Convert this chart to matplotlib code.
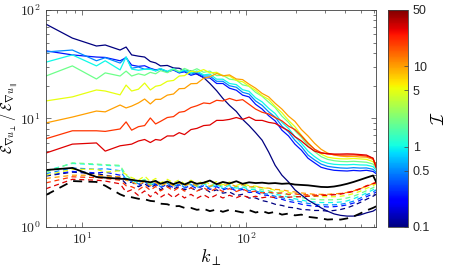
import numpy as np
import matplotlib
matplotlib.use('Agg')
import matplotlib.pyplot as plt
from matplotlib.colors import LogNorm
from matplotlib.cm import ScalarMappable
from matplotlib.ticker import NullFormatter, NullLocator

plt.rcParams['mathtext.fontset'] = 'cm'
plt.rcParams['font.family'] = ['Liberation Sans', 'DejaVu Sans']

k = [6, 8.7, 12.2, 13.8, 17, 18.5,
     20, 22, 24, 26, 28, 30,
     33, 36, 39, 42, 46, 50,
     55, 60, 66, 72, 79, 87,
     95, 104, 114, 125, 137, 150,
     165, 181, 198, 217, 238, 261,
     286, 313, 343, 376, 412, 451,
     494, 541, 593, 620]

I_vals = [0.1, 0.25, 0.5, 1, 2, 5, 10, 20, 30]

# solid curves, one per I
s_01 = [74, 55, 46.5, 47.5, 42.7, 45.5,
        38.5, 37.5, 36.8, 33.5, 32.5, 30.5,
        30.8, 29.2, 29.0, 27.6, 27.4, 25.6,
        23.8, 21.0, 18.0, 15.3, 13.2, 11.6,
        9.8, 8.6, 7.4, 6.3, 4.9, 3.7,
        3.0, 2.6, 2.2, 1.97, 1.77, 1.63,
        1.5, 1.4, 1.32, 1.28, 1.26, 1.26,
        1.29, 1.35, 1.40, 1.46]
s_025 = [42, 38.5, 36.8, 36.5, 34.0, 36.3,
         31.0, 30.2, 30.6, 29.0, 28.0, 28.6,
         27.0, 27.9, 26.3, 26.9, 25.0, 25.9,
         23.8, 23.6, 21.0, 21.0, 19.0, 18.2,
         16.4, 15.8, 13.5, 12.2, 10.6, 9.5,
         7.8, 6.9, 5.8, 5.1, 4.3, 3.9,
         3.55, 3.42, 3.33, 3.3, 3.28, 3.32,
         3.29, 3.33, 3.25, 3.1]
s_05 = [41, 42.7, 34.0, 36.3, 32.4, 36.8,
        29.0, 29.8, 28.4, 28.8, 27.4, 28.6,
        26.8, 28.2, 26.4, 27.5, 25.6, 26.6,
        24.6, 24.6, 22.0, 22.0, 20.0, 19.4,
        17.4, 16.8, 14.5, 13.2, 11.5, 10.3,
        8.5, 7.5, 6.3, 5.5, 4.6, 4.15,
        3.8, 3.62, 3.55, 3.5, 3.48, 3.52,
        3.49, 3.5, 3.4, 3.2]
s_1 = [33, 38.5, 30.5, 34.0, 28.0, 36.8,
       28.5, 27.8, 28.4, 28.3, 27.6, 28.8,
       27.2, 28.8, 26.9, 28.0, 26.3, 27.4,
       25.2, 25.6, 23.0, 23.0, 21.0, 20.5,
       18.4, 17.8, 15.5, 14.2, 12.4, 11.1,
       9.2, 8.1, 6.8, 5.9, 5.0, 4.45,
       4.05, 3.87, 3.78, 3.75, 3.74, 3.77,
       3.73, 3.72, 3.6, 3.35]
s_2 = [24.6, 30.5, 23.1, 26.3, 24.6, 27.3,
       24.6, 25.8, 25.0, 26.6, 25.8, 27.6,
       26.4, 28.4, 27.0, 28.9, 27.2, 28.7,
       26.6, 27.3, 24.8, 25.0, 23.0, 22.6,
       20.4, 19.8, 17.4, 16.0, 14.1, 12.6,
       10.5, 9.2, 7.7, 6.7, 5.6, 4.95,
       4.45, 4.2, 4.08, 4.02, 4.0, 4.03,
       3.99, 3.95, 3.8, 3.5]
s_5 = [14.5, 15.8, 18.3, 17.9, 16.5, 20.3,
       17.9, 18.6, 21.2, 18.3, 19.8, 20.2,
       22.0, 22.4, 24.6, 24.8, 27.2, 26.8,
       28.2, 26.3, 26.6, 24.8, 24.6, 22.4,
       21.8, 19.8, 18.2, 16.2, 15.0, 12.9,
       11.3, 9.6, 8.4, 7.0, 6.0, 5.2,
       4.7, 4.4, 4.3, 4.25, 4.24, 4.28,
       4.24, 4.2, 4.0, 3.6]
s_10 = [9.1, 10.3, 11.7, 11.5, 13.3, 12.5,
        13.0, 13.9, 15.1, 13.6, 15.0, 15.0,
        16.4, 16.8, 18.8, 18.9, 20.9, 21.0,
        23.5, 24.2, 26.0, 24.7, 25.2, 23.1,
        22.8, 20.7, 19.0, 17.0, 15.8, 13.8,
        12.2, 10.5, 9.4, 7.9, 6.9, 5.9,
        5.2, 4.8, 4.6, 4.5, 4.45, 4.47,
        4.42, 4.4, 4.2, 3.7]
s_20 = [6.5, 7.7, 7.7, 7.6, 8.0, 9.3,
        7.8, 8.4, 8.6, 10.1, 8.9, 9.4,
        10.2, 10.4, 11.4, 11.6, 12.6, 13.1,
        13.9, 13.7, 14.7, 14.5, 15.3, 14.6,
        14.9, 13.5, 12.2, 11.4, 11.0, 10.2,
        9.5, 8.5, 7.9, 6.9, 5.9, 5.2,
        4.85, 4.7, 4.65, 4.6, 4.6, 4.62,
        4.57, 4.5, 4.3, 3.6]
s_30 = [4.8, 5.8, 5.95, 5.0, 5.6, 5.7,
        5.8, 6.2, 6.4, 6.0, 6.4, 6.3,
        6.9, 6.9, 7.4, 7.1, 7.9, 8.1,
        8.6, 8.7, 9.6, 9.6, 9.8, 10.2,
        9.8, 10.3, 9.6, 9.6, 9.2, 9.0,
        8.3, 7.7, 6.8, 6.2, 5.5, 5.0,
        4.8, 4.75, 4.7, 4.7, 4.72, 4.7,
        4.65, 4.6, 4.3, 3.5]

# dashed curves, one per I
d_01 = [2.95, 3.2, 3.1, 3.0, 2.85, 2.5,
        2.6, 2.35, 2.5, 2.3, 2.45, 2.2,
        2.4, 2.25, 2.35, 2.2, 2.3, 2.15,
        2.28, 2.1, 2.2, 2.05, 2.1, 1.95,
        2.0, 1.85, 1.85, 1.75, 1.7, 1.62,
        1.58, 1.52, 1.5, 1.45, 1.44, 1.42,
        1.42, 1.4, 1.42, 1.45, 1.5, 1.58,
        1.68, 1.8, 1.92, 2.0]
d_025 = [3.0, 3.25, 3.15, 3.2, 3.0, 2.7,
         2.6, 2.42, 2.58, 2.36, 2.5, 2.3,
         2.48, 2.3, 2.45, 2.28, 2.42, 2.25,
         2.4, 2.22, 2.35, 2.2, 2.3, 2.15,
         2.22, 2.08, 2.1, 1.98, 1.95, 1.85,
         1.8, 1.72, 1.68, 1.62, 1.58, 1.55,
         1.55, 1.53, 1.54, 1.56, 1.6, 1.66,
         1.76, 1.9, 2.02, 2.1]
d_05 = [3.1, 3.5, 3.4, 3.45, 3.3, 2.75,
        2.65, 2.5, 2.62, 2.4, 2.55, 2.35,
        2.52, 2.35, 2.5, 2.32, 2.46, 2.3,
        2.44, 2.28, 2.4, 2.25, 2.36, 2.22,
        2.28, 2.16, 2.15, 2.05, 2.0, 1.92,
        1.86, 1.8, 1.75, 1.7, 1.65, 1.62,
        1.6, 1.6, 1.6, 1.62, 1.66, 1.73,
        1.84, 1.98, 2.1, 2.2]
d_1 = [3.3, 3.85, 3.75, 3.7, 3.65, 2.8,
       2.7, 2.55, 2.7, 2.45, 2.62, 2.4,
       2.58, 2.42, 2.56, 2.38, 2.52, 2.36,
       2.5, 2.34, 2.46, 2.3, 2.42, 2.28,
       2.34, 2.22, 2.22, 2.12, 2.08, 2.0,
       1.95, 1.88, 1.82, 1.77, 1.72, 1.7,
       1.68, 1.68, 1.68, 1.7, 1.74, 1.82,
       1.93, 2.06, 2.2, 2.3]
d_2 = [3.2, 3.9, 3.8, 3.75, 3.7, 3.0,
       2.75, 2.6, 2.75, 2.5, 2.68, 2.45,
       2.64, 2.46, 2.6, 2.42, 2.58, 2.4,
       2.56, 2.4, 2.52, 2.36, 2.5, 2.34,
       2.42, 2.3, 2.3, 2.2, 2.16, 2.08,
       2.04, 1.98, 1.92, 1.87, 1.82, 1.8,
       1.78, 1.78, 1.78, 1.8, 1.85, 1.92,
       2.03, 2.16, 2.3, 2.4]
d_5 = [3.0, 3.4, 3.4, 3.2, 3.3, 3.05,
       2.85, 2.7, 2.95, 2.62, 2.8, 2.55,
       2.75, 2.55, 2.72, 2.5, 2.7, 2.5,
       2.66, 2.48, 2.62, 2.45, 2.6, 2.42,
       2.52, 2.4, 2.38, 2.3, 2.26, 2.18,
       2.14, 2.08, 2.02, 1.98, 1.94, 1.92,
       1.9, 1.9, 1.9, 1.92, 1.96, 2.03,
       2.13, 2.27, 2.4, 2.5]
d_10 = [2.8, 3.0, 3.0, 2.95, 2.9, 2.7,
        2.6, 2.45, 2.62, 2.4, 2.58, 2.38,
        2.55, 2.4, 2.56, 2.38, 2.54, 2.38,
        2.55, 2.36, 2.52, 2.38, 2.5, 2.36,
        2.46, 2.34, 2.36, 2.3, 2.28, 2.22,
        2.2, 2.14, 2.1, 2.06, 2.03, 2.0,
        2.0, 2.0, 2.02, 2.04, 2.08, 2.15,
        2.25, 2.38, 2.5, 2.55]
d_20 = [2.55, 2.9, 2.85, 2.8, 2.7, 2.4,
        2.35, 2.2, 2.4, 2.18, 2.36, 2.15,
        2.34, 2.15, 2.32, 2.14, 2.3, 2.14,
        2.3, 2.12, 2.28, 2.12, 2.26, 2.12,
        2.24, 2.1, 2.14, 2.06, 2.1, 2.04,
        2.06, 2.0, 2.02, 1.98, 1.98, 1.97,
        1.98, 1.98, 2.0, 2.03, 2.08, 2.15,
        2.26, 2.4, 2.52, 2.6]
d_30 = [2.25, 2.75, 2.7, 2.65, 2.5, 2.1,
        2.2, 1.95, 2.15, 1.9, 2.1, 1.88,
        2.05, 1.86, 2.02, 1.85, 2.0, 1.84,
        1.98, 1.84, 1.98, 1.85, 1.96, 1.86,
        1.96, 1.86, 1.92, 1.86, 1.9, 1.87,
        1.9, 1.88, 1.9, 1.9, 1.92, 1.93,
        1.95, 1.96, 1.98, 2.01, 2.06, 2.13,
        2.24, 2.38, 2.5, 2.55]

# black reference curves
black_solid = [3.35, 3.5, 2.89, 2.85, 2.78, 2.77,
               2.72, 2.66, 2.64, 2.58, 2.66, 2.5,
               2.62, 2.48, 2.6, 2.46, 2.62, 2.5,
               2.56, 2.68, 2.48, 2.6, 2.52, 2.64,
               2.5, 2.58, 2.54, 2.56, 2.52, 2.54,
               2.5, 2.52, 2.46, 2.44, 2.42, 2.38,
               2.34, 2.33, 2.36, 2.42, 2.5, 2.6,
               2.72, 2.85, 2.98, 2.6]
black_dashed = [1.97, 2.65, 2.6, 2.4, 2.0, 1.9,
                1.88, 1.82, 1.8, 1.74, 1.72, 1.64,
                1.62, 1.55, 1.56, 1.5, 1.5, 1.44,
                1.47, 1.4, 1.45, 1.38, 1.44, 1.4,
                1.36, 1.43, 1.36, 1.4, 1.34, 1.38,
                1.3, 1.33, 1.28, 1.3, 1.24, 1.22,
                1.2, 1.17, 1.18, 1.17, 1.2, 1.25,
                1.33, 1.42, 1.5, 1.55]

solid = [s_01, s_025, s_05, s_1, s_2, s_5, s_10, s_20, s_30]
dashed = [d_01, d_025, d_05, d_1, d_2, d_5, d_10, d_20, d_30]

cmap = plt.get_cmap('jet')
norm = LogNorm(vmin=0.1, vmax=50)

fig = plt.figure(figsize=(4.5, 2.68), dpi=100)
ax = fig.add_axes([0.102, 0.153, 0.734, 0.81])

for I, y in zip(I_vals, dashed):
    ax.plot(k, y, '--', color=cmap(norm(I)), lw=0.9, dashes=(4, 3))
for I, y in zip(I_vals, solid):
    ax.plot(k, y, '-', color=cmap(norm(I)), lw=0.9)
ax.plot(k, black_dashed, '--', color='k', lw=1.3, dashes=(5, 3.5))
ax.plot(k, black_solid, '-', color='k', lw=1.3)

ax.set_xscale('log')
ax.set_yscale('log')
ax.set_xlim(6, 620)
ax.set_ylim(1, 100)
ax.set_xticks([10, 100])
ax.set_xticklabels([r'$10^{1}$', r'$10^{2}$'])
ax.set_yticks([1, 10, 100])
ax.set_yticklabels([r'$10^{0}$', r'$10^{1}$', r'$10^{2}$'])
ax.xaxis.set_minor_formatter(NullFormatter())
ax.yaxis.set_minor_formatter(NullFormatter())
ax.tick_params(which='both', direction='in', top=True, right=True,
               labelsize=10, colors='0.25', labelcolor='0.15')
ax.tick_params(which='major', length=3.5, width=0.5)
ax.tick_params(which='minor', length=2, width=0.5)
for sp in ax.spines.values():
    sp.set_color('0.25')
    sp.set_linewidth(0.6)

ax.set_xlabel(r'$k_{\perp}$', fontsize=13, labelpad=0)
ax.set_ylabel(r'$\mathcal{E}_{\nabla u_{\perp}}\,/\,\mathcal{E}_{\nabla u_{\parallel}}$',
              fontsize=10.5)
ax.yaxis.set_label_coords(-0.078, 0.5)

cax = fig.add_axes([0.862, 0.153, 0.0445, 0.81])
sm = ScalarMappable(norm=norm, cmap=cmap)
cb = fig.colorbar(sm, cax=cax, ticks=[0.1, 0.5, 1, 5, 10, 50])
cb.ax.set_yticklabels(['0.1', '0.5', '1', '5', '10', '50'])
cb.ax.yaxis.set_minor_locator(NullLocator())
cb.ax.tick_params(direction='in', length=3, width=0.5, labelsize=9, colors='0.25', labelcolor='0.15')
cb.outline.set_linewidth(0.6)
cb.outline.set_edgecolor('0.25')
cb.set_label(r'$\mathcal{I}$', fontsize=13)
cb.ax.yaxis.set_label_coords(2.15, 0.5)

fig.savefig('out.png', dpi=100)
